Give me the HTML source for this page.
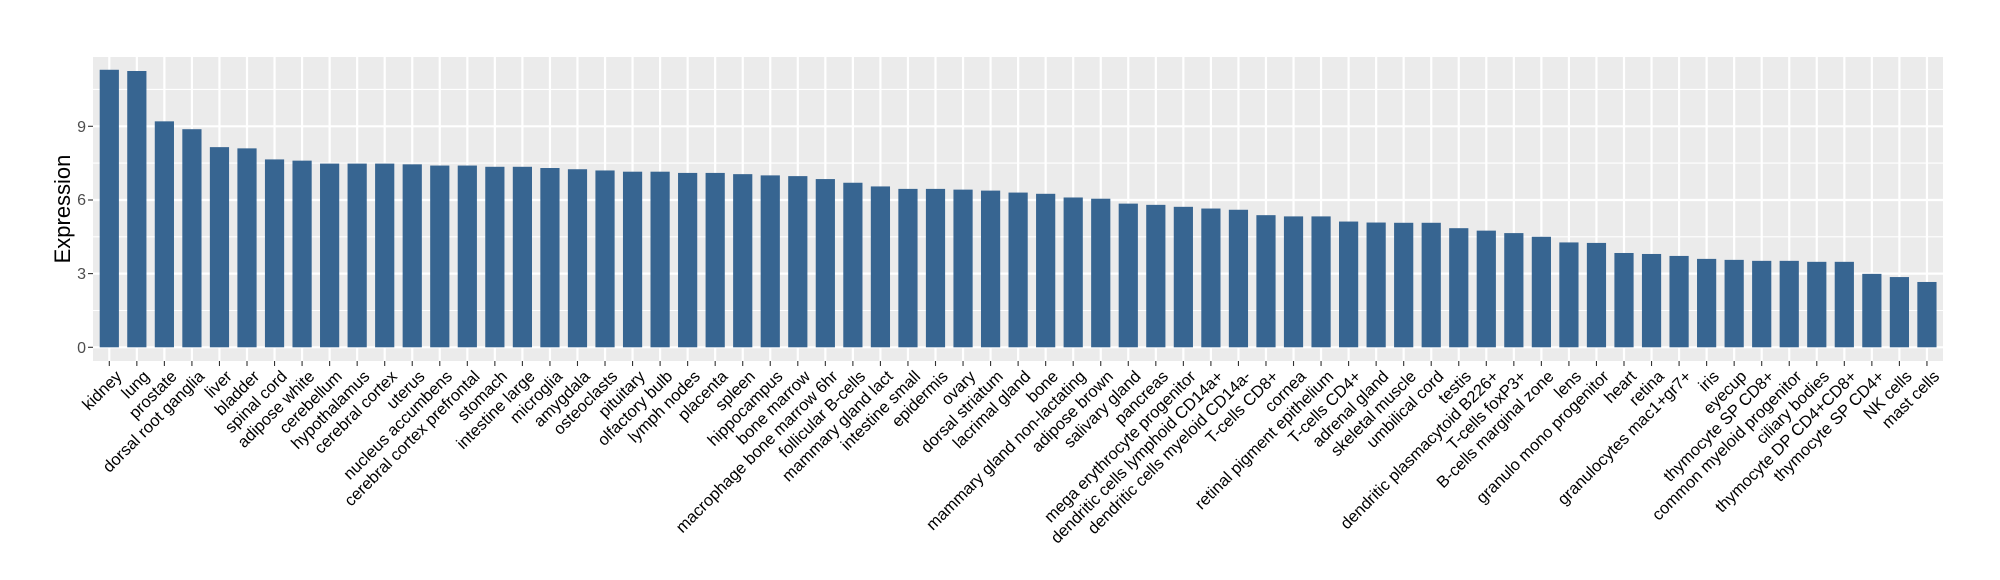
<!DOCTYPE html>
<html><head><meta charset="utf-8"><style>
html,body{margin:0;padding:0;background:#fff}
svg{display:block}
text{font-family:"Liberation Sans",Arial,sans-serif}
</style></head><body>
<svg width="2000" height="580" viewBox="0 0 2000 580" xmlns="http://www.w3.org/2000/svg">
<rect x="93" y="57" width="1850" height="304" fill="#EBEBEB"/>
<g stroke="#fff" stroke-width="1.1">
<line x1="93" x2="1943" y1="310.5" y2="310.5"/>
<line x1="93" x2="1943" y1="236.8" y2="236.8"/>
<line x1="93" x2="1943" y1="163.1" y2="163.1"/>
<line x1="93" x2="1943" y1="89.4" y2="89.4"/>
</g>
<g stroke="#fff" stroke-width="2.2">
<line x1="93" x2="1943" y1="347.3" y2="347.3"/>
<line x1="93" x2="1943" y1="273.6" y2="273.6"/>
<line x1="93" x2="1943" y1="200.0" y2="200.0"/>
<line x1="93" x2="1943" y1="126.3" y2="126.3"/>
</g>
<g id="vg" stroke="#fff" stroke-width="2.2"></g>
<g font-size="16" fill="#4D4D4D" text-anchor="end">
<text x="86" y="353">0</text>
<text x="86" y="279">3</text>
<text x="86" y="205">6</text>
<text x="86" y="132">9</text>
</g>
<g stroke="#333" stroke-width="1.1">
<line x1="88" x2="93" y1="347.3" y2="347.3"/>
<line x1="88" x2="93" y1="273.6" y2="273.6"/>
<line x1="88" x2="93" y1="200.0" y2="200.0"/>
<line x1="88" x2="93" y1="126.3" y2="126.3"/>
</g>
<text transform="translate(70,209) rotate(-90)" text-anchor="middle" font-size="22" fill="#000">Expression</text>
<g id="bars"></g>
</svg>
<script>
var d=[["kidney",11.3],["lung",11.25],["prostate",9.2],["dorsal root ganglia",8.88],["liver",8.15],["bladder",8.1],["spinal cord",7.65],["adipose white",7.6],["cerebellum",7.48],["hypothalamus",7.48],["cerebral cortex",7.48],["uterus",7.45],["nucleus accumbens",7.4],["cerebral cortex prefrontal",7.4],["stomach",7.35],["intestine large",7.35],["microglia",7.3],["amygdala",7.25],["osteoclasts",7.2],["pituitary",7.15],["olfactory bulb",7.15],["lymph nodes",7.1],["placenta",7.1],["spleen",7.05],["hippocampus",7.0],["bone marrow",6.97],["macrophage bone marrow 6hr",6.85],["follicular B-cells",6.7],["mammary gland  lact",6.55],["intestine small",6.45],["epidermis",6.45],["ovary",6.42],["dorsal striatum",6.38],["lacrimal gland",6.3],["bone",6.25],["mammary gland non-lactating",6.1],["adipose brown",6.05],["salivary gland",5.85],["pancreas",5.8],["mega erythrocyte progenitor",5.72],["dendritic cells lymphoid CD14a+",5.65],["dendritic cells myeloid CD14a-",5.6],["T-cells CD8+",5.38],["cornea",5.33],["retinal pigment epithelium",5.33],["T-cells CD4+",5.12],["adrenal gland",5.08],["skeletal muscle",5.07],["umbilical cord",5.07],["testis",4.85],["dendritic plasmacytoid B226+",4.75],["T-cells foxP3+",4.65],["B-cells marginal zone",4.5],["lens",4.27],["granulo mono progenitor",4.25],["heart",3.84],["retina",3.8],["granulocytes mac1+gr7+",3.72],["iris",3.6],["eyecup",3.56],["thymocyte SP CD8+",3.52],["common myeloid progenitor",3.52],["ciliary bodies",3.48],["thymocyte DP CD4+CD8+",3.48],["thymocyte SP CD4+",2.99],["NK cells",2.86],["mast cells",2.66]];
var ns="http://www.w3.org/2000/svg",vg=document.getElementById("vg"),b=document.getElementById("bars");
function el(t,a,p){var e=document.createElementNS(ns,t);for(var k in a)e.setAttribute(k,a[k]);p.appendChild(e);return e;}
d.forEach(function(r,i){var cx=109.3+27.54*i;
el("line",{x1:cx,x2:cx,y1:57,y2:361},vg);
var h=r[1]*24.56;
el("rect",{x:cx-9.6,y:347.3-h,width:19.2,height:h,fill:"#376591"},b);
el("line",{x1:cx,x2:cx,y1:361,y2:366,stroke:"#333","stroke-width":1.1},b);
var t=el("text",{transform:"translate("+(cx+5)+",369) rotate(-45)","text-anchor":"end","font-size":"16.5",fill:"#000",dy:"0.72em"},b);t.textContent=r[0];
});
</script>
</body></html>
